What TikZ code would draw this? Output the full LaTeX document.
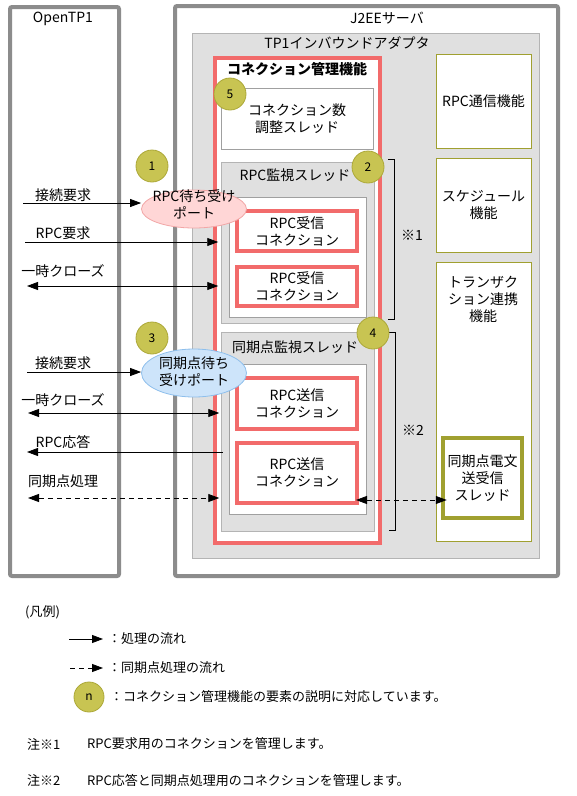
\documentclass[tikz,border=0pt]{standalone}
\usepackage{fontspec}
\setmainfont{Noto Sans CJK JP}
\usetikzlibrary{arrows.meta,shapes.geometric}
\definecolor{frame}{HTML}{8C8C8C}
\definecolor{adaf}{HTML}{E0E0E0}
\definecolor{adab}{HTML}{B4B4B4}
\definecolor{redc}{HTML}{F26B6B}
\definecolor{olive}{HTML}{A0A030}
\definecolor{numf}{HTML}{C8C452}
\definecolor{numb}{HTML}{ACA838}
\definecolor{pinkf}{HTML}{FFD6D6}
\definecolor{pinkb}{HTML}{F2A6A6}
\definecolor{bluef}{HTML}{CDE4FA}
\definecolor{blueb}{HTML}{8EBFEC}
\definecolor{plainb}{HTML}{A0A0A0}
\begin{document}
\begin{tikzpicture}[x=1pt,y=-1pt,
  sz/.style 2 args={minimum width=#1, minimum height=#2, inner sep=0pt},
  t/.style={font=\fontsize{14}{17}\selectfont, align=center, inner sep=0pt},
  lg/.style={font=\fontsize{13}{15}\selectfont, anchor=west, inner sep=0pt},
  outerbox/.style={draw=frame, line width=4pt, rounded corners=2pt},
  graybox/.style={draw=adab, fill=adaf, line width=1pt},
  plainbox/.style={draw=plainb, fill=white, line width=1pt, t},
  conbox/.style={draw=redc, fill=white, line width=4pt, t},
  olivebox/.style={draw=olive, fill=white, line width=1pt, t},
  num/.style={circle, draw=numb, fill=numf, line width=0.8pt, minimum size=32pt, inner sep=0pt, font=\fontsize{12}{14}\selectfont},
  flow/.style={-{Triangle[length=11pt,width=8pt]}, line width=0.8pt},
  flow2/.style={{Triangle[length=11pt,width=8pt]}-{Triangle[length=11pt,width=8pt]}, line width=0.8pt},
  dflow2/.style={flow2, dash pattern=on 5pt off 4pt},
  brk/.style={line width=0.8pt}
]
\useasboundingbox[fill=white] (0,0) rectangle (577,796);

% outer frames
\node[outerbox, sz={109}{569}] (otp) at (64.5,291.5) {};
\node[t] (otpt) at (63,19) {OpenTP1};
\node[outerbox, sz={383}{570}] (j2ee) at (366.5,291) {};
\node[t] (j2eet) at (387,18) {J2EEサーバ};
\node[graybox, sz={347}{525}] (ada) at (365.5,295.5) {};
\node[t] (adat) at (347,43) {TP1インバウンドアダプタ};

% connection management
\node[draw=redc, fill=white, line width=3.5pt, sz={165}{485}] (mgr) at (297.5,300.5) {};
\node[t, font=\fontsize{14}{17}\selectfont\bfseries] (mgrt) at (297,69) {コネクション管理機能};
\node[plainbox, sz={152}{61}] (adj) at (297,118.5) {コネクション数\\調整スレッド};

\node[graybox, sz={153}{161}] (mon) at (297.5,242.5) {};
\node[t] (mont) at (295,175) {RPC監視スレッド};
\node[plainbox, sz={137}{120}] (monin) at (297.5,257) {};
\node[conbox, sz={120}{40}] (rcv1) at (297,231) {RPC受信\\コネクション};
\node[conbox, sz={120}{39}] (rcv2) at (297,286.5) {RPC受信\\コネクション};

\node[graybox, sz={153}{199}] (syn) at (297.5,431.5) {};
\node[t] (synt) at (295,347) {同期点監視スレッド};
\node[plainbox, sz={137}{150}] (synin) at (297.5,439) {};
\node[conbox, sz={120}{51}] (snd1) at (297,403.5) {RPC送信\\コネクション};
\node[conbox, sz={120}{60}] (snd2) at (297,473) {RPC送信\\コネクション};

% right column
\node[olivebox, sz={95}{94}] (rpcf) at (483.5,101) {RPC通信機能};
\node[olivebox, sz={95}{94}] (sch) at (483.5,205) {スケジュール\\機能};
\node[olivebox, sz={95}{279}] (trn) at (483.5,401.5) {};
\node[t] (trnt) at (483,299) {トランザク\\ション連携\\機能};
\node[olivebox, line width=4.5pt, sz={79}{80}] (sst) at (482.5,478) {同期点電文\\送受信\\スレッド};

% brackets
\draw[brk] (388,159) -- (394,159) -- (394,319) -- (388,319);
\node[t] (n1) at (412,235) {※1};
\draw[brk] (389,332) -- (395,332) -- (395,530) -- (389,530);
\node[t] (n2) at (413,430) {※2};

% ports
\node[ellipse, draw=pinkb, fill=pinkf, line width=0.8pt, sz={105}{38}] (port1) at (194,209) {};
\node[t] (port1t) at (194,204) {RPC待ち受け\\ポート};
\node[ellipse, draw=blueb, fill=bluef, line width=0.8pt, sz={105}{48}] (port2) at (194,373) {};
\node[t] (port2t) at (194,372) {同期点待ち\\受けポート};

% numbered circles
\node[num] (c5) at (230,94) {5};
\node[num] (c1) at (152,166) {1};
\node[num] (c2) at (368,167) {2};
\node[num] (c3) at (152,338) {3};
\node[num] (c4) at (373,333) {4};

% arrows, left side
\coordinate (s1) at (23,203);
\coordinate (s2) at (25,242);
\coordinate (s3) at (27,286);
\coordinate (s4) at (27,372);
\coordinate (s5) at (28,413);
\coordinate (s6) at (27,452);
\coordinate (s7) at (28,498);
\coordinate (s8) at (0,500);

\node[t] (l1) at (63,195) {接続要求};
\draw[flow] (s1) -- (s1 -| port1.west);
\node[t] (l2) at (63,233) {RPC要求};
\draw[flow, shorten >=-5pt] (s2) -- (s2 -| mgr.west);
\node[t] (l3) at (63,271) {一時クローズ};
\draw[flow2, shorten >=-5pt] (s3) -- (s3 -| mgr.west);
\node[t] (l4) at (63,363) {接続要求};
\draw[flow] (s4) -- (s4 -| port2.west);
\node[t] (l5) at (63,400) {一時クローズ};
\draw[flow2, shorten >=-6pt] (s5) -- (s5 -| mgr.west);
\node[t] (l6) at (63,442) {RPC応答};
\draw[flow, shorten <=-2pt] (s6 -| syn.west) -- (s6);
\node[t] (l7) at (63,481) {同期点処理};
\draw[dflow2, shorten >=-6pt] (s7) -- (s7 -| mgr.west);
\draw[dflow2, shorten <=-3pt, shorten >=-6pt] (snd2.east |- s8) -- (sst.west |- s8);

% legend
\node[lg] (leg) at (25,612) {(凡例)};
\coordinate (la) at (69,639);
\coordinate (lb) at (103,639);
\draw[flow] (la) -- (lb);
\node[lg] (lgt1) at (108,639) {：処理の流れ};
\coordinate (lc) at (70,668);
\coordinate (ld) at (103,668);
\draw[flow, dash pattern=on 5pt off 4pt] (lc) -- (ld);
\node[lg] (lgt2) at (108,668) {：同期点処理の流れ};
\node[num, minimum size=30pt] (cn) at (89,697) {n};
\node[lg] (lgt3) at (110,697) {：コネクション管理機能の要素の説明に対応しています。};
\node[lg] (nt1) at (27,744) {注※1};
\node[lg] (nt1t) at (87,744) {RPC要求用のコネクションを管理します。};
\node[lg] (nt2) at (27,780) {注※2};
\node[lg] (nt2t) at (87,780) {RPC応答と同期点処理用のコネクションを管理します。};
\end{tikzpicture}
\end{document}
